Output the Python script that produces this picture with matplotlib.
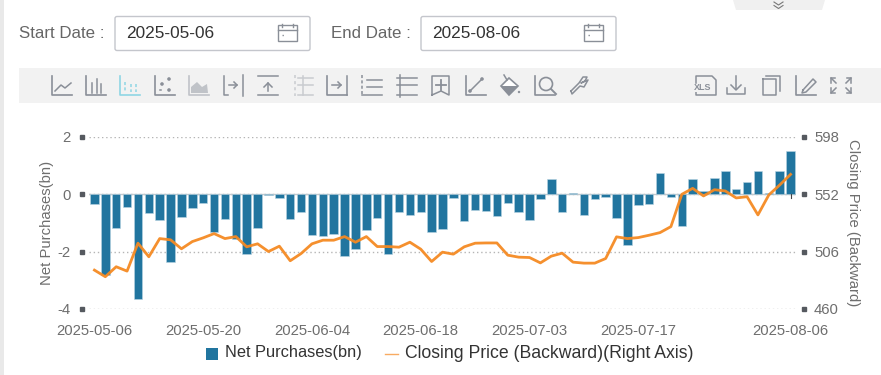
import matplotlib
matplotlib.use("Agg")
import matplotlib.pyplot as plt
from matplotlib.patches import Rectangle, Polygon, Circle, FancyBboxPatch

W, H = 881, 375

dates = ["2025-05-06", "2025-05-20", "2025-06-04", "2025-06-18", "2025-07-03", "2025-07-17", "2025-08-06"]
date_idx = [0, 10, 20, 30, 40, 50, 64]

net_purchases = [-0.35, -2.8, -1.17, -0.43, -3.66, -0.66, -0.9, -2.35, -0.78, -0.47,
                 -0.29, -1.33, -0.86, -1.57, -2.09, -1.17, -0.02, -0.14, -0.86, -0.62,
                 -1.43, -1.45, -1.38, -2.14, -1.9, -1.26, -0.83, -2.07, -0.62, -0.71,
                 -0.6, -1.3, -1.22, -0.14, -0.94, -0.55, -0.57, -0.77, -0.31, -0.63,
                 -0.88, -0.17, 0.52, -0.62, 0.03, -0.73, -0.17, -0.08, -0.83, -1.76,
                 -0.37, -0.35, 0.74, -0.1, -1.12, 0.52, 0.12, 0.58, 0.83, 0.17,
                 0.42, 0.83, 0.05, 0.83, 1.51]

closing_price = [491.2, 485.9, 493.9, 490.4, 512.8, 501.9, 516.5, 515.5, 508.3, 514.1,
                 517.1, 520.5, 516.5, 518.1, 509.9, 512.3, 506.1, 510.4, 498.7, 504.5,
                 512.3, 515.2, 515.2, 518.1, 513.6, 518.1, 510.1, 510.1, 509.6, 513.6,
                 508.0, 498.1, 505.6, 504.0, 509.9, 512.8, 513.0, 513.0, 503.2, 501.6,
                 501.3, 497.0, 502.4, 504.8, 497.6, 496.8, 496.8, 500.5, 517.9, 516.5,
                 517.3, 519.2, 521.3, 526.1, 552.0, 556.8, 550.7, 555.7, 554.7, 549.1,
                 550.1, 535.5, 551.5, 559.5, 568.0]

left_ticks = [-4, -2, 0, 2]
right_ticks = [460, 506, 552, 598]

BAR = "#21759f"
LINE = "#f58a23"
GREY = "#6e6e6e"
ICON = "#8a8f98"

plt.rcParams['font.family'] = ['Liberation Sans', 'DejaVu Sans']
plt.rcParams['axes.unicode_minus'] = False

fig = plt.figure(figsize=(W / 100, H / 100), dpi=100)

# page furniture in pixel coordinates
ui = fig.add_axes([0, 0, 1, 1], zorder=0)
ui.set_xlim(0, W)
ui.set_ylim(H, 0)
ui.axis('off')
ui.add_patch(Rectangle((0, 0), 4, H, fc="#e9e9e9", ec="none"))
ui.add_patch(Rectangle((19, 68), W - 19, 35, fc="#f2f2f2", ec="none"))
ui.add_patch(Polygon([(733, 0), (825, 0), (822, 10), (736, 10)], fc="#f0f0f0", ec="none"))
ui.plot([774, 778.5, 783], [2, 5, 2], color="#777777", lw=0.8)
ui.plot([774, 778.5, 783], [5.5, 8.5, 5.5], color="#777777", lw=0.8)


def date_box(x0, x1, label, lx, value):
    ui.add_patch(FancyBboxPatch((x0, 16.5), x1 - x0, 34, boxstyle="round,pad=0,rounding_size=2",
                                fc="white", ec="#c4c6cc", lw=1))
    ui.text(lx, 33, label, fontsize=12.2, color="#666666", va='center', ha='left')
    ui.text(x0 + 11, 33, value, fontsize=12.4, color="#333333", va='center', ha='left')
    cx = x1 - 32
    ui.add_patch(Rectangle((cx, 25), 19, 16, fc="none", ec=ICON, lw=1))
    ui.plot([cx, cx + 19], [30, 30], color=ICON, lw=1)
    ui.plot([cx + 4, cx + 4], [23.5, 27], color=ICON, lw=1)
    ui.plot([cx + 15, cx + 15], [23.5, 27], color=ICON, lw=1)
    ui.plot([cx + 4, cx + 8], [35, 35], color=ICON, lw=1, ls=(0, (1, 2)))


date_box(115, 310, "Start Date :", 19, "2025-05-06")
date_box(421, 616, "End Date :", 331, "2025-08-06")


def base(x, c=ICON):
    # L shaped axis that most toolbar icons share
    ui.plot([x, x, x + 20], [76, 95, 95], color=c, lw=1.2)


def ln(xs, ys, c=ICON, lw=1.1, **kw):
    ui.plot(xs, ys, color=c, lw=lw, **kw)


# line
base(52)
ln([55, 61, 65, 71], [91, 85, 88, 83])
# bars
base(86)
for dx, top in [(6, 83), (11, 79), (15, 84)]:
    ln([86 + dx, 86 + dx], [top, 93])
# stacked bars (selected)
sel = "#8fd6e4"
base(120, sel)
for dx, top in [(5, 82), (11, 84), (16, 84)]:
    ln([120 + dx, 120 + dx], [top, 92], c=sel, ls=(0, (2, 1.5)))
# scatter
base(155)
for px, py in [(169, 79), (162, 84), (169, 90)]:
    ui.add_patch(Circle((px, py), 1.8, fc=ICON, ec="none"))
ln([160, 161], [90, 90])
# area
base(189, "#c0c3c8")
ui.add_patch(Polygon([(191, 93), (191, 87), (197, 82), (202, 87), (207, 84), (208, 93)], fc="#c0c3c8", ec="none"))
# step right
ln([224, 224, 228], [76, 95, 95])
ln([243, 243], [75, 96])
ln([229, 237], [85, 85])
ln([234, 237, 234], [82, 85, 88])
# arrow up
ln([258, 278], [76, 76])
ln([258, 278], [95, 95])
ln([268, 268], [91, 83])
ln([264, 268, 272], [87, 83, 87])
# disabled ruler
for y in [78, 85, 95]:
    ln([298, 313], [y, y], c="#c9cbd0")
ln([295, 295], [75, 96], c="#c9cbd0", ls=(0, (2, 2)))
ln([303, 303], [76, 95], c="#c9cbd0")
# arrow box
base(327)
ln([347, 347], [76, 95])
ln([332, 341], [85, 85])
ln([338, 341, 338], [82, 85, 88])
# list lines
ln([362, 382], [95, 95])
ln([362, 362], [75, 95], ls=(0, (2, 1.5)))
for y in [80, 87]:
    ln([367, 382], [y, y])
# horizontal lines
ln([397, 417], [78, 78])
ln([397, 417], [85, 85])
ln([397, 417], [95, 95])
ln([400, 400], [75, 97])
# plus box
ln([432, 432, 449, 449, 441, 432], [95, 76, 76, 95, 91, 95])
ln([436, 446], [85, 85], lw=1.3)
ln([441, 441], [80, 90], lw=1.3)
# line between points
base(466)
ln([470, 482], [91, 79])
ui.add_patch(Circle((470, 91), 1.8, fc=ICON, ec="none"))
ui.add_patch(Circle((482, 79), 1.8, fc=ICON, ec="none"))
# paint bucket
ui.add_patch(Polygon([(501, 86), (509, 78), (518, 86), (509, 95)], fc="white", ec=ICON, lw=1.2))
ui.add_patch(Polygon([(501, 86), (518, 86), (509, 95)], fc=ICON, ec="none"))
ln([507, 504], [80, 75])
ui.add_patch(Circle((519, 92), 1.2, fc=ICON, ec="none"))
# magnifier
base(535)
ui.add_patch(Circle((546, 84), 6.5, fc="none", ec=ICON, lw=1.2))
ln([551, 556], [89, 94], lw=1.4)
# wrench
ln([571, 579, 583, 587, 585, 581, 588, 584, 580, 572, 571], [91, 83, 77, 77, 81, 83, 80, 87, 86, 94, 91], lw=1.1)
# xls
ln([696, 696, 712, 716, 716, 696, 696], [83, 76, 76, 80, 95, 95, 91])
ui.add_patch(Rectangle((692, 84), 22, 7.5, fc="#f2f2f2", ec="none", zorder=3))
ui.text(702.5, 87.5, "XLS", fontsize=6.5, color=ICON, fontweight='bold', ha='center', va='center', zorder=4)
# download
ln([727, 727, 745, 745], [88, 94, 94, 88])
ln([736, 736], [76, 89])
ln([731, 736, 741], [85, 90, 85])
# copy
ln([763, 763, 776, 776, 769, 763], [79, 95, 95, 79, 79, 79])
ln([766, 780, 780], [76, 76, 91])
# edit
base(796)
ln([803, 813, 816, 806, 802, 803], [90, 79, 82, 92, 93, 90])
# fullscreen corners
for sx, sy, cx, cy in [(-1, -1, 836, 83), (1, -1, 846, 83), (-1, 1, 836, 88), (1, 1, 846, 88)]:
    ln([cx + sx * 5, cx], [cy + sy * 5, cy])
    ln([cx + sx * 5, cx + sx * 5, cx + sx], [cy, cy + sy * 5, cy + sy * 5])

# chart
l, r, t, b = 89, 796, 137, 309
ax = fig.add_axes([l / W, 1 - b / H, (r - l) / W, (b - t) / H], zorder=1)
ax.patch.set_alpha(0)
xs = list(range(len(net_purchases)))
ax.set_xlim(-0.5, len(net_purchases) - 0.5)
ax.set_ylim(-4, 2)
ax.bar(xs, net_purchases, width=0.78, color=BAR, edgecolor="#b9d4e2", linewidth=0.4, zorder=3)
ax.axhline(0, color="#c4c8cc", lw=1, zorder=2)
ax.set_yticks(left_ticks)
ax.yaxis.grid(True, color="#b5b5b5", lw=1, ls=(0, (1, 2)), zorder=0)
ax.xaxis.grid(False)
ax.set_xticks(date_idx)
ax.set_xticklabels(dates)
ax.tick_params(axis='x', length=0, pad=10.5, labelsize=10.7, labelcolor=GREY)
ax.tick_params(axis='y', length=0, pad=13, labelsize=10.7, labelcolor=GREY)
for s in ax.spines.values():
    s.set_visible(False)
ax.set_ylabel("Net Purchases(bn)", fontsize=10.7, color=GREY)
ax.yaxis.set_label_coords(-0.05, 0.5)

ax2 = ax.twinx()
ax2.patch.set_alpha(0)
ax2.set_ylim(460, 598)
ax2.plot(xs, closing_price, color=LINE, lw=2, alpha=0.95, zorder=5, solid_joinstyle='round')
ax2.set_yticks(right_ticks)
ax2.tick_params(axis='y', length=0, pad=13, labelsize=10.7, labelcolor=GREY)
for s in ax2.spines.values():
    s.set_visible(False)
ax2.set_ylabel("Closing Price (Backward)", fontsize=10.7, color=GREY, rotation=270, va='center')
ax2.yaxis.set_label_coords(1.081, 0.5)

# the square tick marks either side of the plot and the one tick at the end of the axis
for v in left_ticks:
    ax.plot([-0.0103], [v], transform=ax.get_yaxis_transform(), marker='s', ms=3, color="#55595f",
            clip_on=False, zorder=6)
for v in right_ticks:
    ax2.plot([1.0113], [v], transform=ax2.get_yaxis_transform(), marker='s', ms=3, color="#55595f",
             clip_on=False, zorder=6)
ax.plot([64, 64], [0, -0.13], color="#444444", lw=0.8, zorder=6)

# legend
ui.add_patch(Rectangle((206, 348), 12, 12, fc=BAR, ec="none"))
ui.text(225, 353, "Net Purchases(bn)", fontsize=11.8, color="#333333", va='center', ha='left')
ui.plot([385, 398], [353.5, 353.5], color="#f8ab62", lw=1)
ui.text(405, 353, "Closing Price (Backward)(Right Axis)", fontsize=12.7, color="#333333", va='center', ha='left')

fig.savefig("out.png", dpi=100)
